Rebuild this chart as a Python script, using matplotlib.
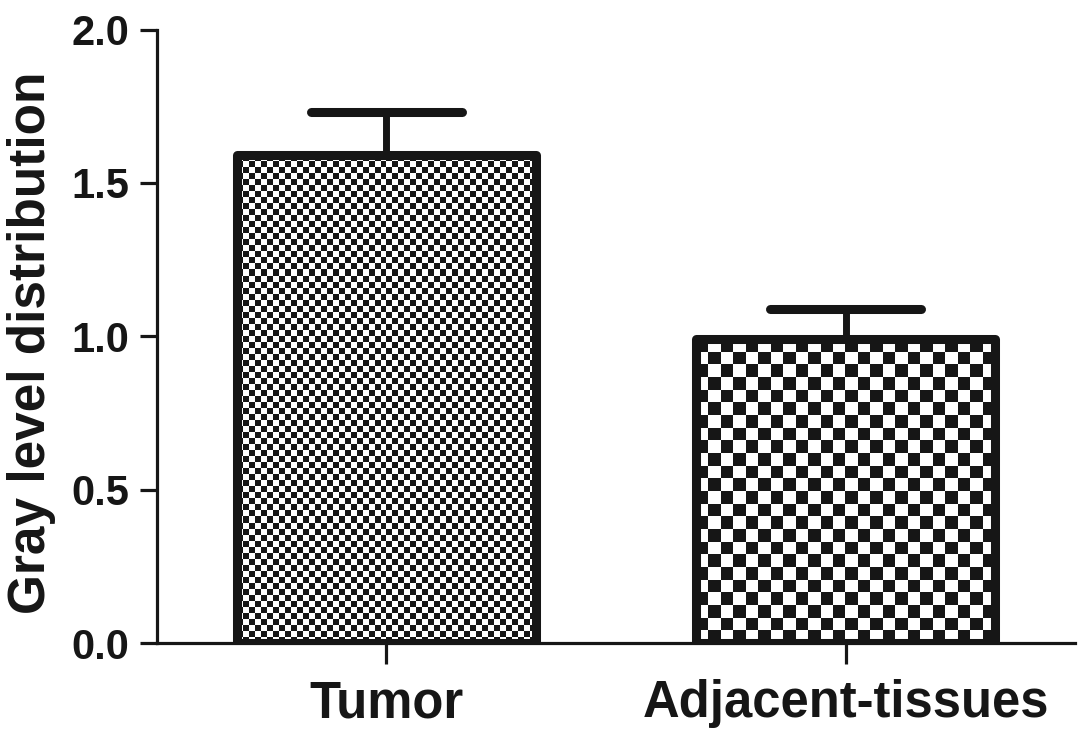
import numpy as np
import matplotlib
matplotlib.use('Agg')
import matplotlib.pyplot as plt
from matplotlib.colors import ListedColormap

# data
groups = ['Tumor', 'Adjacent-tissues']
means = [1.59, 0.99]
errs = [0.14, 0.10]

# checker cell size (pixels) for each bar
cell_px = [6.0, 12.5]

ink = '#161616'
plt.rcParams['font.family'] = ['Liberation Sans', 'DejaVu Sans']
plt.rcParams['font.weight'] = 'bold'

fig = plt.figure(figsize=(10.87, 7.42), dpi=100)
ax_box = [0.1444, 0.1334, 0.8446, 0.8268]
ax = fig.add_axes(ax_box)

x = np.arange(len(groups))
bars = ax.bar(x, means, width=0.65, facecolor='none', edgecolor=ink,
              linewidth=6.5, joinstyle='round', zorder=3)

xlim = (-0.5, 1.5)
ylim = (0, 2.0)
# pixels per data unit, to size the checker cells
pxx = fig.dpi * fig.get_figwidth() * ax_box[2] / (xlim[1] - xlim[0])
pxy = fig.dpi * fig.get_figheight() * ax_box[3] / (ylim[1] - ylim[0])

cmap = ListedColormap(['white', ink])
for b, c in zip(bars, cell_px):
    x0, y0 = b.get_x(), b.get_y()
    w, h = b.get_width(), b.get_height()
    nx = max(1, int(round(w * pxx / c)))
    ny = max(1, int(round(h * pxy / c)))
    board = np.add.outer(np.arange(ny), np.arange(nx)) % 2
    im = ax.imshow(board, cmap=cmap, extent=(x0, x0 + w, y0, y0 + h),
                   origin='lower', interpolation='nearest', aspect='auto',
                   zorder=2)
    im.set_clip_path(b)

# upper error bars only
ax.vlines(x, means, np.array(means) + np.array(errs), color=ink,
          linewidth=5, zorder=2.5)
ax.hlines(np.array(means) + np.array(errs), x - 0.165, x + 0.165, color=ink,
          linewidth=6.5, capstyle='round', zorder=3)

ax.set_xlim(*xlim)
ax.set_ylim(*ylim)

ax.spines['top'].set_visible(False)
ax.spines['right'].set_visible(False)
for s in ['left', 'bottom']:
    ax.spines[s].set_linewidth(2.3)
    ax.spines[s].set_color(ink)

ax.set_yticks([0, 0.5, 1.0, 1.5, 2.0])
ax.set_yticklabels(['0.0', '0.5', '1.0', '1.5', '2.0'])
ax.set_xticks(x)
ax.set_xticklabels(groups)
ax.tick_params(axis='y', length=12, width=2.3, color=ink, labelsize=30,
               pad=8, labelcolor=ink)
ax.tick_params(axis='x', length=15, width=2.3, color=ink, labelsize=36.5,
               pad=11, labelcolor=ink)

fig.text(32 / 1087, 1 - 343 / 742, 'Gray level distribution', rotation=90,
         ha='center', va='center', fontsize=37, fontweight='bold', color=ink)

fig.savefig('out.png', dpi=100)
